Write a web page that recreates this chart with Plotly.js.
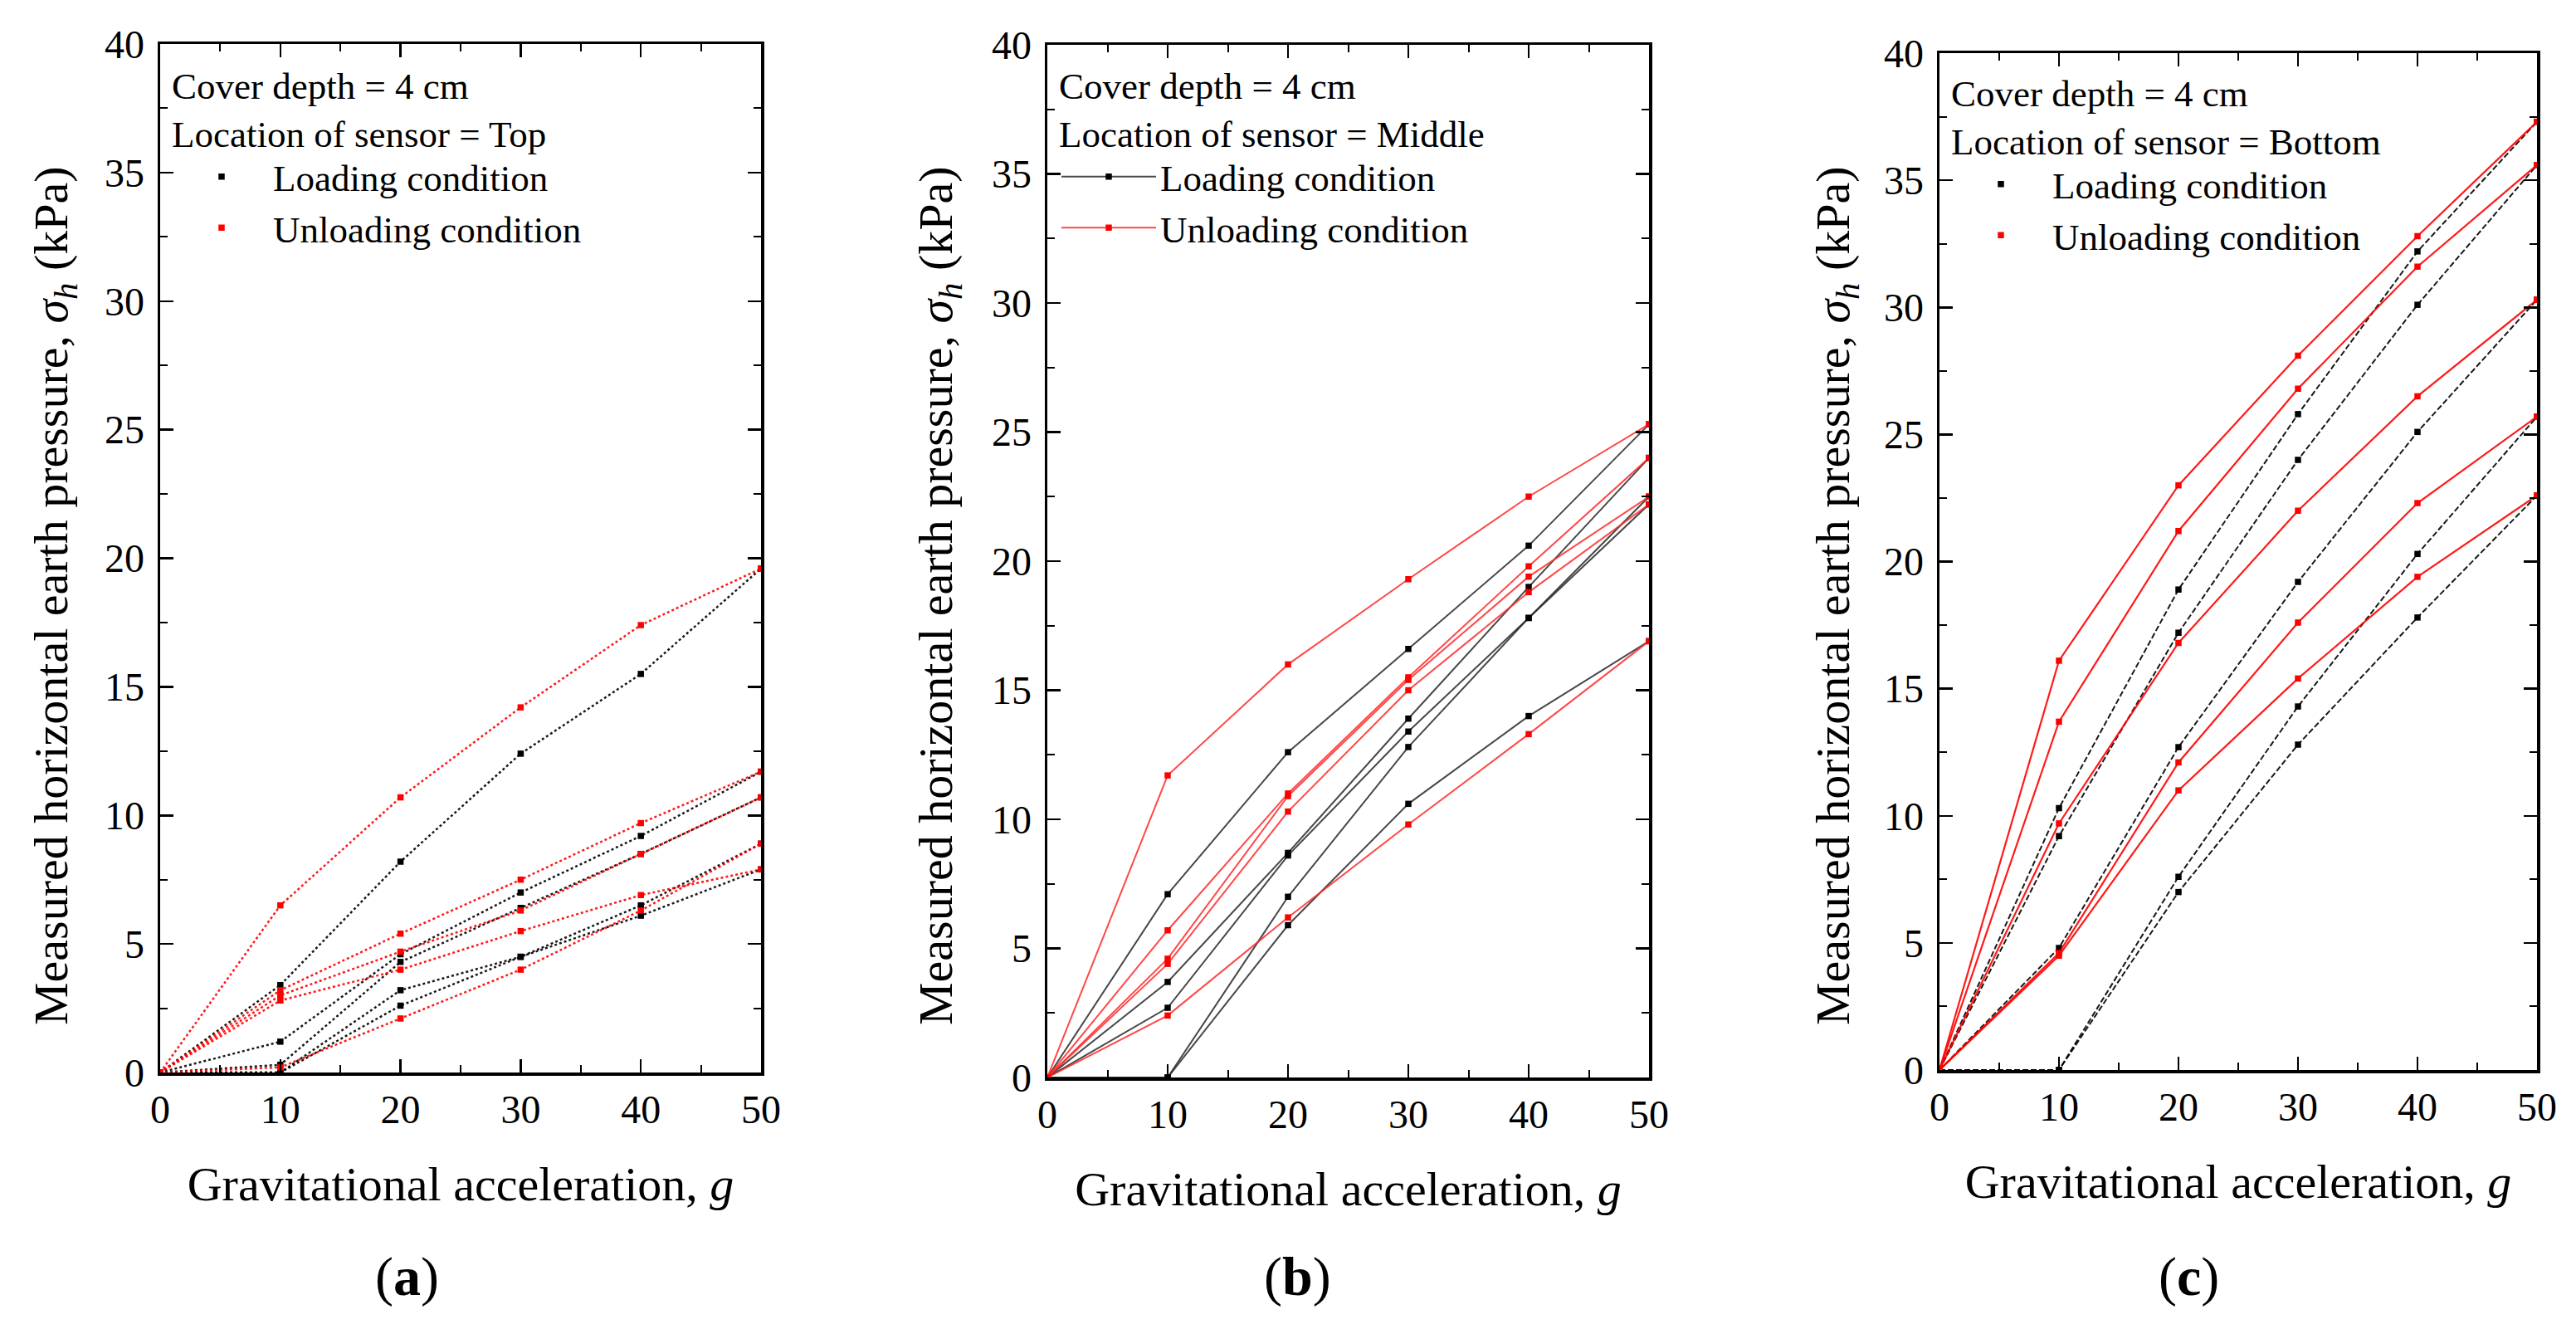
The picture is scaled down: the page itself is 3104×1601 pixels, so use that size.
<!DOCTYPE html>
<html>
<head>
<meta charset="utf-8">
<script src="https://cdn.plot.ly/plotly-3.0.1.min.js"></script>
<style>html,body{margin:0;padding:0;background:#fff;}#chart{width:3104px;height:1601px;}</style>
</head>
<body>
<div id="chart"></div>
<script>
// Gravitational acceleration levels (g)
const gLevels = [0, 10, 20, 30, 40, 50];

// (a) Top sensor
const aLoad1 = [0, 3.4, 8.2, 12.4, 15.5, 19.6];
const aLoad2 = [0, 1.2, 4.6, 7.0, 9.2, 11.7];
const aLoad3 = [0, 0.3, 4.3, 6.4, 8.5, 10.7];
const aLoad4 = [0, 0, 2.6, 4.5, 6.1, 7.9];
const aLoad5 = [0, 0, 3.2, 4.5, 6.5, 8.9];
const aUnload1 = [0, 6.5, 10.7, 14.2, 17.4, 19.6];
const aUnload2 = [0, 3.2, 5.4, 7.5, 9.7, 11.7];
const aUnload3 = [0, 3.0, 4.7, 6.3, 8.5, 10.7];
const aUnload4 = [0, 2.8, 4.0, 5.5, 6.9, 7.9];
const aUnload5 = [0, 0.2, 2.1, 4.0, 6.3, 8.9];

// (b) Middle sensor
const bLoad1 = [0, 7.1, 12.6, 16.6, 20.6, 25.3];
const bLoad2 = [0, 3.7, 8.7, 13.9, 19.0, 24.0];
const bLoad3 = [0, 2.7, 8.6, 13.4, 17.8, 22.5];
const bLoad4 = [0, 0, 7.0, 12.8, 17.8, 22.2];
const bLoad5 = [0, 0, 5.9, 10.6, 14.0, 16.9];
const bUnload1 = [0, 11.7, 16.0, 19.3, 22.5, 25.3];
const bUnload2 = [0, 5.7, 11.0, 15.5, 19.8, 24.0];
const bUnload3 = [0, 4.6, 10.9, 15.4, 19.4, 22.5];
const bUnload4 = [0, 4.4, 10.3, 15.0, 18.8, 22.2];
const bUnload5 = [0, 2.4, 6.2, 9.8, 13.3, 16.9];

// (c) Bottom sensor
const cLoad1 = [0, 10.3, 18.9, 25.8, 32.2, 37.3];
const cLoad2 = [0, 9.2, 17.2, 24.0, 30.1, 35.6];
const cLoad3 = [0, 4.8, 12.7, 19.2, 25.1, 30.3];
const cLoad4 = [0, 0, 7.6, 14.3, 20.3, 25.7];
const cLoad5 = [0, 0, 7.0, 12.8, 17.8, 22.6];
const cUnload1 = [0, 16.1, 23.0, 28.1, 32.8, 37.3];
const cUnload2 = [0, 13.7, 21.2, 26.8, 31.6, 35.6];
const cUnload3 = [0, 9.7, 16.8, 22.0, 26.5, 30.3];
const cUnload4 = [0, 4.6, 12.1, 17.6, 22.3, 25.7];
const cUnload5 = [0, 4.5, 11.0, 15.4, 19.4, 22.6];

const panelSensors = ['Top', 'Middle', 'Bottom'];
const panelLetters = ['a', 'b', 'c'];
const legendNames = ['Loading condition', 'Unloading condition'];
const coverText = 'Cover depth = 4 cm';
const xTitleText = 'Gravitational acceleration, <i>g</i>';
const yTitleText = 'Measured horizontal earth pressure, <i>σ<sub>h</sub></i> (kPa)';

const FONT = 'Liberation Serif, Times New Roman, serif';
const RED = '#ff0000';
const BLACK = '#000000';

const panels = [
  {load: [aLoad1, aLoad2, aLoad3, aLoad4, aLoad5], unload: [aUnload1, aUnload2, aUnload3, aUnload4, aUnload5],
   xa: 'x', ya: 'y', leg: 'legend',
   loadLine: {color: 'rgba(0,0,0,0.9)', width: 2.5, dash: 'dot'},
   unloadLine: {color: 'rgba(255,0,0,0.9)', width: 2.5, dash: 'dot'}, lineInLegend: false},
  {load: [bLoad1, bLoad2, bLoad3, bLoad4, bLoad5], unload: [bUnload1, bUnload2, bUnload3, bUnload4, bUnload5],
   xa: 'x2', ya: 'y2', leg: 'legend2',
   loadLine: {color: 'rgba(40,40,40,0.85)', width: 2, dash: 'solid'},
   unloadLine: {color: 'rgba(255,40,40,0.85)', width: 2, dash: 'solid'}, lineInLegend: true},
  {load: [cLoad1, cLoad2, cLoad3, cLoad4, cLoad5], unload: [cUnload1, cUnload2, cUnload3, cUnload4, cUnload5],
   xa: 'x3', ya: 'y3', leg: 'legend3',
   loadLine: {color: 'rgba(0,0,0,0.9)', width: 2, dash: '7px,3px'},
   unloadLine: {color: 'rgba(255,0,0,0.9)', width: 2.2, dash: 'solid'}, lineInLegend: false}
];

const traces = [];
panels.forEach((p, pi) => {
  const groups = [[p.load, p.loadLine, BLACK, legendNames[0]], [p.unload, p.unloadLine, RED, legendNames[1]]];
  groups.forEach(([series, line, mcol, name], gi) => {
    series.forEach((vals, si) => {
      traces.push({
        type: 'scatter', mode: 'lines+markers', x: gLevels, y: vals,
        xaxis: p.xa, yaxis: p.ya, legend: p.leg,
        name: name, legendgroup: p.leg + name,
        showlegend: p.lineInLegend && si === 0,
        line: line,
        marker: {symbol: 'square', size: 7.5, color: mcol},
        hoverinfo: 'x+y'
      });
    });
    if (!p.lineInLegend) {
      traces.push({
        type: 'scatter', mode: 'markers', x: [null], y: [null],
        xaxis: p.xa, yaxis: p.ya, legend: p.leg,
        name: name, legendgroup: p.leg + name, showlegend: true,
        marker: {symbol: 'square', size: 7.5, color: mcol}
      });
    }
  });
});

function xAxis(domain, anchor) {
  return {
    domain: domain, anchor: anchor, range: [0, 50], tick0: 0, dtick: 10,
    ticks: 'inside', ticklen: 16, tickwidth: 2.5, tickcolor: '#000',
    minor: {dtick: 5, ticks: 'inside', ticklen: 9, tickwidth: 2, tickcolor: '#000', showgrid: false},
    showline: true, linewidth: 3.5, linecolor: '#000', mirror: 'allticks',
    showgrid: false, zeroline: false, fixedrange: true,
    tickfont: {family: FONT, size: 48, color: '#000'}, ticklabelstandoff: 0,
    title: {text: xTitleText, font: {family: FONT, size: 58, color: '#000'}, standoff: 44}
  };
}
function yAxis(domain, anchor) {
  return {
    domain: domain, anchor: anchor, range: [0, 40], tick0: 0, dtick: 5,
    ticks: 'inside', ticklen: 16, tickwidth: 2.5, tickcolor: '#000',
    minor: {dtick: 2.5, ticks: 'inside', ticklen: 9, tickwidth: 2, tickcolor: '#000', showgrid: false},
    showline: true, linewidth: 3.5, linecolor: '#000', mirror: 'allticks',
    showgrid: false, zeroline: false, fixedrange: true,
    tickfont: {family: FONT, size: 48, color: '#000'}, ticklabelstandoff: 6
  };
}
function legendCfg(x, y, sensor) {
  return {
    x: x, y: y, xanchor: 'left', yanchor: 'top', xref: 'paper', yref: 'paper',
    bgcolor: 'rgba(0,0,0,0)', borderwidth: 0, itemwidth: 114, tracegroupgap: 0,
    font: {family: FONT, size: 45, color: '#000'},
    title: {text: coverText + '<br>Location of sensor = ' + sensor, font: {family: FONT, size: 45, color: '#000'}}
  };
}

const W = 3104, H = 1601;
const px = v => v / W, py = v => 1 - v / H;

const annotations = [];
const yTitleX = [65, 1131, 2212];
const letterX = [490, 1563, 2637];
for (let i = 0; i < 3; i++) {
  annotations.push({
    xref: 'paper', yref: 'paper', x: px(yTitleX[i]), y: py(718), xanchor: 'center', yanchor: 'middle',
    textangle: -90, showarrow: false, text: yTitleText,
    font: {family: FONT, size: 58, color: '#000'}
  });
  annotations.push({
    xref: 'paper', yref: 'paper', x: px(letterX[i]), y: py(1538), xanchor: 'center', yanchor: 'middle',
    showarrow: false, text: '(<b>' + panelLetters[i] + '</b>)',
    font: {family: FONT, size: 66, color: '#000'}
  });
}

const layout = {
  width: W, height: H, autosize: false,
  margin: {l: 0, r: 0, t: 0, b: 0},
  paper_bgcolor: '#fff', plot_bgcolor: '#fff',
  font: {family: FONT, color: '#000'},
  xaxis: xAxis([px(193), px(917)], 'y'),
  yaxis: yAxis([py(1292), py(53)], 'x'),
  xaxis2: xAxis([px(1262), px(1987)], 'y2'),
  yaxis2: yAxis([py(1298), py(54)], 'x2'),
  xaxis3: xAxis([px(2337), px(3057)], 'y3'),
  yaxis3: yAxis([py(1289), py(64)], 'x3'),
  legend: legendCfg(px(205), py(60), panelSensors[0]),
  legend2: legendCfg(px(1274), py(60), panelSensors[1]),
  legend3: legendCfg(px(2349), py(69), panelSensors[2]),
  annotations: annotations,
  showlegend: true
};

Plotly.newPlot('chart', traces, layout, {staticPlot: true, displayModeBar: false});
</script>
</body>
</html>
